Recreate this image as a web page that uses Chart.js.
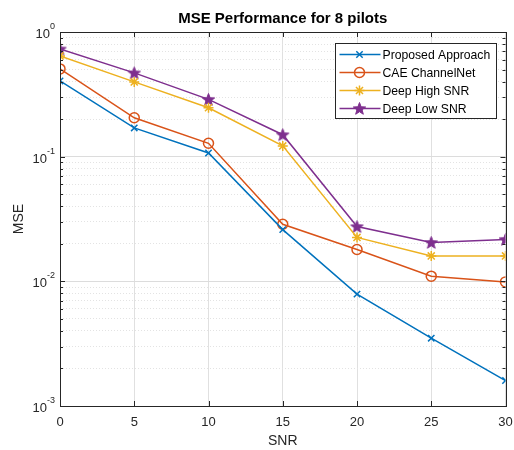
<!DOCTYPE html>
<html>
<head>
<meta charset="utf-8">
<script src="https://cdn.jsdelivr.net/npm/chart.js@4.4.1/dist/chart.umd.min.js"></script>
<style>
  html, body { margin: 0; padding: 0; background: #fff; }
  #wrap { width: 514px; height: 450px; }
</style>
</head>
<body>
<div id="wrap"><canvas id="chart" width="514" height="450"></canvas></div>
<script>
const snr = [0, 5, 10, 15, 20, 25, 30];
const proposed = [0.405, 0.17, 0.107, 0.026, 0.0079, 0.0035, 0.0016];
const cae = [0.506, 0.205, 0.128, 0.0287, 0.018, 0.011, 0.0099];
const deepHigh = [0.643, 0.398, 0.247, 0.122, 0.0225, 0.016, 0.016];
const deepLow = [0.73, 0.47, 0.288, 0.15, 0.0275, 0.0205, 0.0217];
const seriesNames = ["Proposed Approach", "CAE ChannelNet", "Deep High SNR", "Deep Low SNR"];
const xTicks = [0, 5, 10, 15, 20, 25, 30];
const decades = [-3, -2, -1, 0];

const FONT = "'Liberation Sans', Arial, sans-serif";
const INK = "#262626";

function isDecade(v) {
  const l = Math.log10(v);
  return Math.abs(l - Math.round(l)) < 1e-6;
}

// filled pentagram marker
function makeStar(color, r) {
  const c = document.createElement("canvas");
  const s = Math.ceil(r * 2 + 4);
  c.width = s; c.height = s;
  const g = c.getContext("2d");
  g.translate(s / 2, s / 2 + 0.5);
  g.beginPath();
  for (let i = 0; i < 10; i++) {
    const rad = i % 2 === 0 ? r : r * 0.42;
    const a = -Math.PI / 2 + i * Math.PI / 5;
    g.lineTo(rad * Math.cos(a), rad * Math.sin(a));
  }
  g.closePath();
  g.fillStyle = color;
  g.fill();
  g.lineWidth = 1;
  g.strokeStyle = color;
  g.stroke();
  return c;
}
const starImg = makeStar("#7E2F8E", 6.5);

function pts(arr) {
  return snr.map((x, i) => ({ x: x, y: arr[i] }));
}

const datasets = [
  { label: seriesNames[0], data: pts(proposed), borderColor: "#0072BD", pointStyle: "crossRot", pointRadius: 4.5, pointBorderWidth: 1.5 },
  { label: seriesNames[1], data: pts(cae), borderColor: "#D95319", pointStyle: "circle", pointRadius: 5, pointBorderWidth: 1.5, pointBackgroundColor: "rgba(0,0,0,0)" },
  { label: seriesNames[2], data: pts(deepHigh), borderColor: "#EDB120", pointStyle: "star", pointRadius: 5, pointBorderWidth: 1.5 },
  { label: seriesNames[3], data: pts(deepLow), borderColor: "#7E2F8E", pointStyle: starImg, pointRadius: 7 },
].map((d) => Object.assign({ borderWidth: 1.5, tension: 0, fill: false, pointHoverRadius: d.pointRadius }, d));

const matlabAxes = {
  id: "matlabAxes",
  afterDraw(chart) {
    const { ctx, chartArea: a, scales } = chart;
    const xs = scales.x, ys = scales.y;
    ctx.save();
    // inward tick marks
    ctx.strokeStyle = INK;
    ctx.lineWidth = 1;
    ctx.beginPath();
    xTicks.forEach((t) => {
      const px = Math.round(xs.getPixelForValue(t)) + 0.5;
      ctx.moveTo(px, a.bottom); ctx.lineTo(px, a.bottom - 5);
      ctx.moveTo(px, a.top); ctx.lineTo(px, a.top + 5);
    });
    ys.ticks.forEach((t) => {
      const py = Math.round(ys.getPixelForValue(t.value)) + 0.5;
      const len = isDecade(t.value) ? 5 : 3;
      ctx.moveTo(a.left, py); ctx.lineTo(a.left + len, py);
      ctx.moveTo(a.right, py); ctx.lineTo(a.right - len, py);
    });
    ctx.stroke();
    // box
    ctx.strokeRect(Math.round(a.left) + 0.5, Math.round(a.top) + 0.5, Math.round(a.right - a.left), Math.round(a.bottom - a.top));

    // y tick labels 10^n
    ctx.fillStyle = INK;
    ctx.textBaseline = "alphabetic";
    decades.forEach((e) => {
      const py = ys.getPixelForValue(Math.pow(10, e));
      ctx.font = "9px " + FONT;
      const sup = e === 0 ? "0" : "-" + Math.abs(e);
      const sw = ctx.measureText(sup).width;
      const right = a.left - 5;
      ctx.textAlign = "right";
      ctx.fillText(sup, right, py - 3);
      ctx.font = "13px " + FONT;
      ctx.fillText("10", right - sw, py + 6);
    });

    // title
    ctx.font = "bold 15px " + FONT;
    ctx.textAlign = "center";
    ctx.fillStyle = "#000";
    ctx.fillText("MSE Performance for 8 pilots", (a.left + a.right) / 2, a.top - 9);

    // legend
    const lw = 161, lh = 75;
    const lx = Math.round(a.right - 10 - lw) + 0.5, ly = Math.round(a.top + 11) + 0.5;
    ctx.fillStyle = "#fff";
    ctx.fillRect(lx, ly, lw, lh);
    ctx.strokeStyle = INK;
    ctx.lineWidth = 1;
    ctx.strokeRect(lx, ly, lw, lh);
    ctx.textAlign = "left";
    ctx.textBaseline = "middle";
    chart.data.datasets.forEach((d, i) => {
      const cy = ly + 11 + i * 18;
      ctx.strokeStyle = d.borderColor;
      ctx.lineWidth = 1.5;
      ctx.beginPath();
      ctx.moveTo(lx + 4, cy); ctx.lineTo(lx + 45, cy);
      ctx.stroke();
      ctx.fillStyle = "rgba(0,0,0,0)";
      ctx.lineWidth = d.pointBorderWidth || 1.5;
      Chart.helpers.drawPoint(ctx, {
        pointStyle: d.pointStyle, radius: d.pointRadius, rotation: 0, borderWidth: d.pointBorderWidth || 1
      }, lx + 24, cy);
      ctx.fillStyle = "#000";
      ctx.font = "12.2px " + FONT;
      ctx.fillText(d.label, lx + 47, cy + 1);
    });
    ctx.restore();
  },
};

new Chart(document.getElementById("chart"), {
  type: "line",
  data: { datasets: datasets },
  options: {
    responsive: false,
    animation: false,
    devicePixelRatio: 1,
    layout: { padding: { top: 32, right: 8, left: 0, bottom: 0 } },
    plugins: { legend: { display: false }, title: { display: false }, tooltip: { enabled: false } },
    scales: {
      x: {
        type: "linear",
        min: 0,
        max: 30,
        afterBuildTicks: (s) => { s.ticks = xTicks.map((v) => ({ value: v })); },
        afterFit: (s) => { s.height = 44; s.paddingLeft = 0; s.paddingRight = 0; },
        grid: { color: "#e0e0e0", drawTicks: false },
        border: { display: false },
        ticks: { color: INK, font: { family: FONT, size: 13 }, padding: 9, maxRotation: 0 },
        title: { display: true, text: "SNR", color: INK, font: { family: FONT, size: 14 }, padding: { top: 3, bottom: 0 } },
      },
      y: {
        type: "logarithmic",
        min: 0.001,
        max: 1,
        afterBuildTicks: (s) => {
          const t = [];
          decades.forEach((e) => {
            for (let m = 1; m <= 9; m++) {
              const v = m * Math.pow(10, e);
              if (v <= 1.0000001) t.push({ value: v });
            }
          });
          s.ticks = t;
        },
        afterFit: (s) => { s.width = 60; },
        grid: {
          drawTicks: false,
          color: (c) => (c.tick && isDecade(c.tick.value) ? "#dcdcdc" : "#e3e3e3"),
        },
        border: {
          display: false,
          dash: (c) => (c.tick && !isDecade(c.tick.value) ? [1, 2] : []),
        },
        ticks: { display: false, autoSkip: false },
        title: { display: true, text: "MSE", color: INK, font: { family: FONT, size: 14 }, padding: { top: 11, bottom: 0 } },
      },
    },
  },
  plugins: [matlabAxes],
});
</script>
</body>
</html>
